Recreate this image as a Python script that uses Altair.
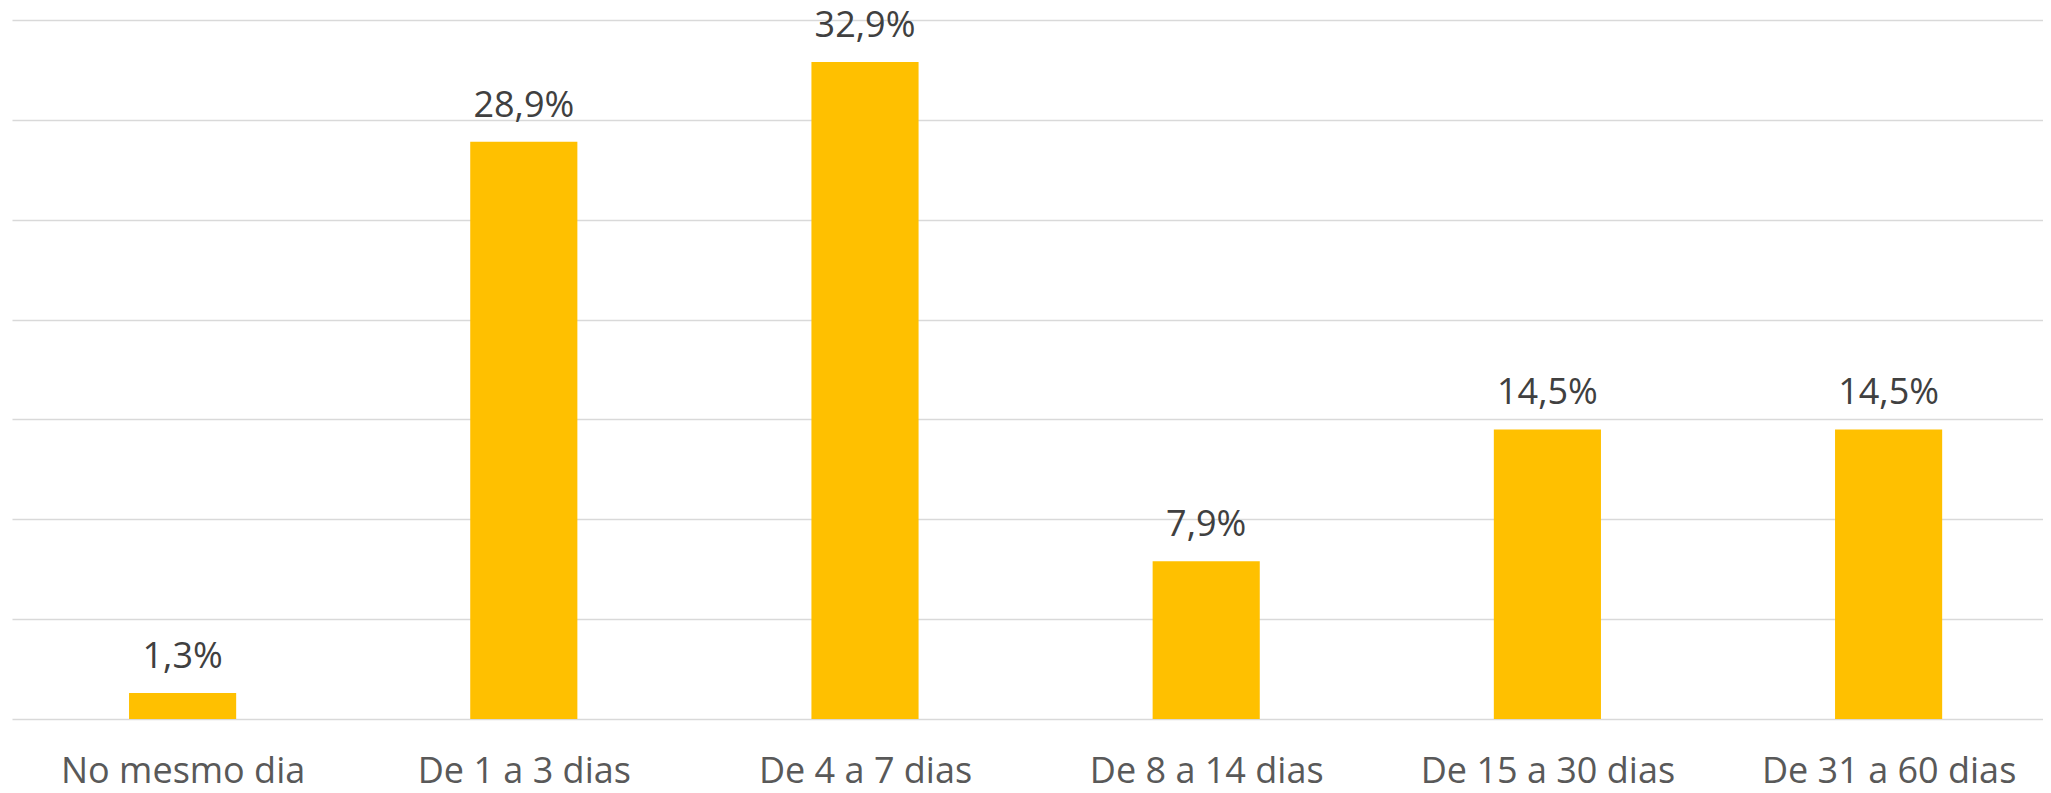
import altair as alt
import pandas as pd

categories = ["No mesmo dia", "De 1 a 3 dias", "De 4 a 7 dias", "De 8 a 14 dias",
              "De 15 a 30 dias", "De 31 a 60 dias"]
values = [1.3, 28.9, 32.9, 7.9, 14.5, 14.5]
grid_values = [0, 5, 10, 15, 20, 25, 30, 35]

df = pd.DataFrame({"cat": categories, "v": values, "idx": list(range(len(categories)))})

FONT = "Open Sans"
HALF = 0.157  # half bar width, in category units
cat_array = "[" + ",".join("'" + c + "'" for c in categories) + "]"

PLOT_W = 2031
STEP = 341.2
xscale = alt.Scale(domain=[-0.5, PLOT_W / STEP - 0.5], nice=False, zero=False)

base = alt.Chart(df).transform_calculate(
    lbl="replace(format(datum.v, '.1f'), '.', ',') + '%'",
    x0=f"datum.idx - {HALF}",
    x1=f"datum.idx + {HALF}",
)

yenc = alt.Y(
    "v:Q", scale=alt.Scale(domain=[0, 35], nice=False),
    axis=alt.Axis(title=None, values=grid_values, labels=False, ticks=False,
                  domain=False, grid=True, gridColor="#D9D9D9", gridWidth=1.3),
)

bars = base.mark_bar(color="#FFC000").encode(
    x=alt.X("x0:Q", scale=xscale,
            axis=alt.Axis(title=None, values=list(range(len(categories))),
                          labelExpr=f"{cat_array}[datum.value]",
                          ticks=False, domain=False, grid=False,
                          labelFont=FONT, labelFontSize=36, labelColor="#595959",
                          labelPadding=63, labelBaseline="alphabetic", labelLimit=1000,
                          labelOverlap=False, labelBound=False, labelFlush=False)),
    x2="x1:Q",
    y=yenc,
    y2=alt.datum(0),
)
text = base.mark_text(baseline="alphabetic", dy=-25, font=FONT, fontSize=36,
                      color="#404040").encode(
    x=alt.X("idx:Q", scale=xscale),
    y=yenc,
    text="lbl:N",
)

chart = alt.layer(bars, text).properties(
    width=PLOT_W, height=699,
    autosize=alt.AutoSizeParams(type="none"),
    padding={"left": 4, "top": 12, "right": 0, "bottom": 66},
).configure_view(stroke=None)

chart.save("out.html", embed_options={"renderer": "svg", "actions": False})
